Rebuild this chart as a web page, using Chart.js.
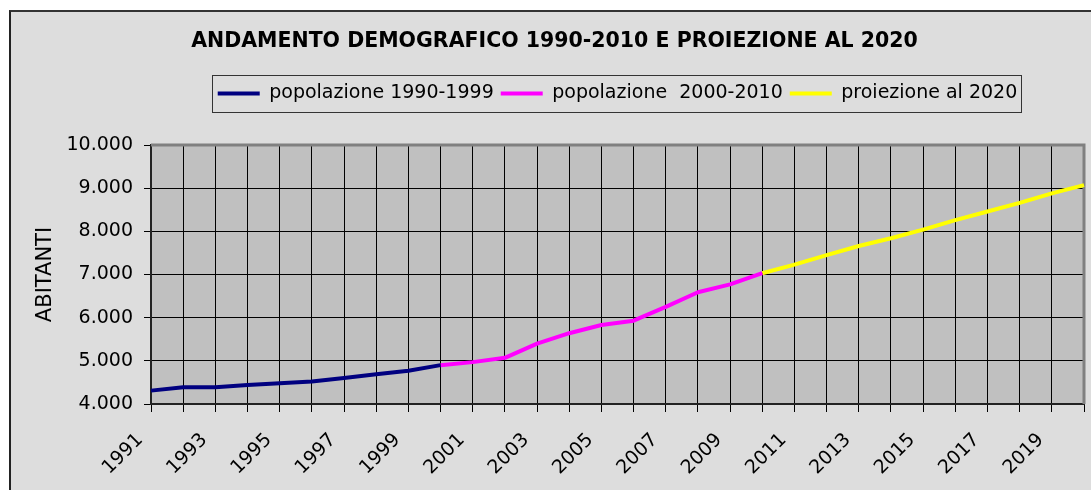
<!DOCTYPE html>
<html lang="it">
<head>
<meta charset="utf-8">
<title>Andamento demografico</title>
<script src="https://cdn.jsdelivr.net/npm/chart.js@4.4.1/dist/chart.umd.min.js"></script>
<style>
  html, body { margin: 0; padding: 0; background: #fff; }
  #cornice {
    position: absolute; left: 9px; top: 10px; width: 1100px; height: 500px;
    background: #dddddd; border-left: 2px solid #222; border-top: 2px solid #333;
  }
  #box { position: absolute; left: 0; top: 0; width: 1091px; height: 490px; }
</style>
</head>
<body>
<div id="cornice"></div>
<div id="box"><canvas id="grafico"></canvas></div>
<script>
// anni sull'asse orizzontale
const anni = ['1991', '1992', '1993', '1994', '1995', '1996', '1997', '1998', '1999', '2000',
  '2001', '2002', '2003', '2004', '2005', '2006', '2007', '2008', '2009', '2010',
  '2011', '2012', '2013', '2014', '2015', '2016', '2017', '2018', '2019', '2020'];

// abitanti
const pop1990_1999 = [4310, 4390, 4390, 4440, 4480, 4520, 4600, 4690, 4770, 4900];
const pop2000_2010 = [4900, 4970, 5070, 5400, 5640, 5830, 5930, 6250, 6590, 6770, 7030];
const proiezione2020 = [7030, 7230, 7450, 7660, 7840, 8040, 8260, 8460, 8660, 8880, 9070];

// indice dell'anno da cui parte ogni serie
const inizio1 = 0, inizio2 = 9, inizio3 = 19;

const asseY = { min: 4000, max: 10000, passo: 1000 };

function allinea(valori, da) {
  const out = new Array(anni.length).fill(null);
  valori.forEach((v, i) => { out[da + i] = v; });
  return out;
}

function migliaia(v) {
  return String(v).replace(/\B(?=(\d{3})+(?!\d))/g, '.');
}

Chart.defaults.font.family = '"DejaVu Sans", Verdana, sans-serif';
Chart.defaults.color = '#000';

// sfondo grigio dell'area del grafico, bordo e riquadro della legenda
const sfondo = {
  id: 'sfondo',
  afterLayout(chart) {
    const a = chart.chartArea;
    chart.legend.left = a.left;
    chart.legend.right = a.right;
    chart.titleBlock.left = 18;
    chart.titleBlock.right = 1091;
  },
  beforeDraw(chart) {
    const { ctx, chartArea: a } = chart;
    ctx.save();
    ctx.fillStyle = '#c0c0c0';
    ctx.fillRect(a.left, a.top, a.right - a.left, a.bottom - a.top);
    ctx.restore();
  },
  beforeDatasetsDraw(chart) {
    const { ctx, chartArea: a } = chart;
    ctx.save();
    ctx.strokeStyle = '#808080';
    ctx.lineWidth = 3;
    ctx.beginPath();
    ctx.moveTo(a.left, a.top);
    ctx.lineTo(a.right, a.top);
    ctx.lineTo(a.right, a.bottom);
    ctx.stroke();
    ctx.restore();
  },
  afterDraw(chart) {
    const { ctx } = chart;
    const hb = chart.legend.legendHitBoxes;
    if (!hb || !hb.length) return;
    const sx = hb[0].left - 6;
    const ultimo = hb[hb.length - 1];
    const dx = ultimo.left + ultimo.width + 3;
    const top = hb[0].top - 9;
    const h = hb[0].height + 18;
    ctx.save();
    ctx.strokeStyle = '#333';
    ctx.lineWidth = 1;
    ctx.strokeRect(Math.round(sx) + 0.5, Math.round(top) + 0.5, Math.round(dx - sx), Math.round(h));
    ctx.restore();
  }
};

function serie(nome, valori, da, colore) {
  return {
    label: nome,
    data: allinea(valori, da),
    borderColor: colore,
    backgroundColor: colore,
    pointBorderColor: colore,
    pointBackgroundColor: colore,
    pointBorderWidth: 4
  };
}

new Chart(document.getElementById('grafico'), {
  type: 'line',
  data: {
    labels: anni,
    datasets: [
      serie('popolazione 1990-1999', pop1990_1999, inizio1, '#000080'),
      serie('popolazione  2000-2010', pop2000_2010, inizio2, '#ff00ff'),
      serie('proiezione al 2020', proiezione2020, inizio3, '#ffff00')
    ]
  },
  options: {
    responsive: true,
    maintainAspectRatio: false,
    animation: false,
    layout: { padding: { top: 0, left: 0, right: 7, bottom: 0 } },
    elements: {
      line: { borderWidth: 4, tension: 0, borderJoinStyle: 'round' },
      point: { radius: 0, hoverRadius: 0 }
    },
    plugins: {
      title: {
        display: true,
        text: 'ANDAMENTO DEMOGRAFICO 1990-2010 E PROIEZIONE AL 2020',
        font: { size: 20.5, weight: 'bold' },
        color: '#000',
        padding: { top: 29.7, bottom: 22.7 }
      },
      subtitle: {
        display: true,
        text: '',
        weight: 100,
        font: { size: 10, lineHeight: 1 },
        padding: { top: 11, bottom: 11 }
      },
      legend: {
        display: true,
        position: 'top',
        labels: {
          font: { size: 19 },
          color: '#000',
          usePointStyle: true,
          pointStyle: 'line',
          pointStyleWidth: 42,
          padding: 7
        }
      },
      tooltip: { enabled: false }
    },
    scales: {
      x: {
        offset: false,
        grid: { color: '#000', lineWidth: 1, tickLength: 8, tickColor: '#000' },
        border: { color: '#222', width: 2 },
        ticks: {
          autoSkip: false,
          minRotation: 45,
          maxRotation: 45,
          padding: 17,
          labelOffset: -11,
          font: { size: 19 },
          color: '#000',
          callback: (v, i) => (i % 2 === 0 ? anni[i] : '')
        },
        afterFit(scale) {
          scale.height = 86;
          scale.paddingLeft = 0;
          scale.paddingRight = 0;
        }
      },
      y: {
        min: asseY.min,
        max: asseY.max,
        grid: { color: '#000', lineWidth: 1, tickLength: 7, tickColor: '#000' },
        border: { color: '#222', width: 2 },
        ticks: {
          stepSize: asseY.passo,
          padding: 11,
          font: { size: 19 },
          color: '#000',
          callback: v => migliaia(v)
        },
        title: {
          display: true,
          text: 'ABITANTI',
          font: { size: 21 },
          color: '#000',
          padding: { top: 32.9, bottom: 0 }
        },
        afterFit(scale) {
          scale.width = 151;
        }
      }
    }
  },
  plugins: [sfondo]
});
</script>
</body>
</html>
